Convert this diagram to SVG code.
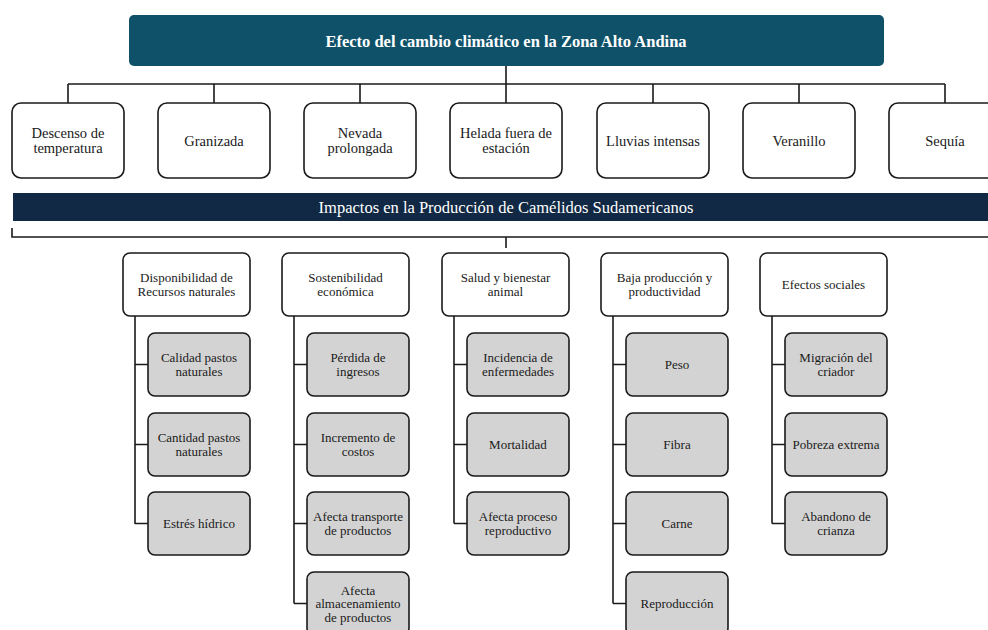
<svg xmlns="http://www.w3.org/2000/svg" width="988" height="630" viewBox="0 0 988 630">
<style>
text{font-family:"Liberation Serif","Times New Roman",serif;fill:#1a1a1a;text-anchor:middle;dominant-baseline:central}
.top rect{fill:#fff;stroke:#1a1a1a;stroke-width:1.6}
.top text{font-size:14.5px}
.par rect{fill:#fff;stroke:#1a1a1a;stroke-width:1.6}
.par text{font-size:13px}
.ch rect{fill:#d3d3d3;stroke:#1a1a1a;stroke-width:1.6}
.ch text{font-size:13px}
#connectors path{fill:none;stroke:#1a1a1a;stroke-width:1.6}
</style>
<rect width="988" height="630" fill="#fff"/>
<g id="connectors">
<path d="M506 66V84M68 84H945M68 84V103M214 84V103M360 84V103M506 84V103M653 84V103M799 84V103M945 84V103"/>
<path d="M12 228V237H988M506 237V248"/>
<path d="M135 316V524M135 364.5H148M135 444.5H148M135 523.5H148"/>
<path d="M294 316V603.5M294 364.5H307M294 444.5H307M294 523.5H307M294 603.5H307"/>
<path d="M454 316V523.5M454 364.5H467M454 444.5H467M454 523.5H467"/>
<path d="M613 316V603.5M613 364.5H626M613 444.5H626M613 523.5H626M613 603.5H626"/>
<path d="M772 316V523.5M772 364.5H785M772 444.5H785M772 523.5H785"/>
</g>
<g id="title"><rect x="129" y="15" width="755" height="51" rx="5" fill="#0f5169"/><text x="506" y="41" style="font-weight:bold;font-size:16.5px;fill:#fff">Efecto del cambio climático en la Zona Alto Andina</text></g>
<g id="t1" class="top"><rect x="12" y="103" width="112" height="75" rx="9"/><text x="68" y="132.5">Descenso de</text><text x="68" y="148">temperatura</text></g>
<g id="t2" class="top"><rect x="158" y="103" width="112" height="75" rx="9"/><text x="214" y="140.5">Granizada</text></g>
<g id="t3" class="top"><rect x="304" y="103" width="112" height="75" rx="9"/><text x="360" y="132.5">Nevada</text><text x="360" y="148">prolongada</text></g>
<g id="t4" class="top"><rect x="450" y="103" width="112" height="75" rx="9"/><text x="506" y="132.5">Helada fuera de</text><text x="506" y="148">estación</text></g>
<g id="t5" class="top"><rect x="597" y="103" width="112" height="75" rx="9"/><text x="653" y="140.5">Lluvias intensas</text></g>
<g id="t6" class="top"><rect x="743" y="103" width="112" height="75" rx="9"/><text x="799" y="140.5">Veranillo</text></g>
<g id="t7" class="top"><rect x="889" y="103" width="112" height="75" rx="9"/><text x="945" y="140.5">Sequía</text></g>
<g id="banner"><rect x="13" y="193" width="980" height="28" fill="#112944"/><text x="506" y="207.5" style="font-size:16.5px;fill:#fff">Impactos en la Producción de Camélidos Sudamericanos</text></g>
<g id="p1" class="par"><rect x="123" y="253" width="127" height="63" rx="7"/><text x="186.5" y="277">Disponibilidad de</text><text x="186.5" y="291">Recursos naturales</text></g>
<g id="p2" class="par"><rect x="282" y="253" width="127" height="63" rx="7"/><text x="345.5" y="277">Sostenibilidad</text><text x="345.5" y="291">económica</text></g>
<g id="p3" class="par"><rect x="442" y="253" width="127" height="63" rx="7"/><text x="505.5" y="277">Salud y bienestar</text><text x="505.5" y="291">animal</text></g>
<g id="p4" class="par"><rect x="601" y="253" width="127" height="63" rx="7"/><text x="664.5" y="277">Baja producción y</text><text x="664.5" y="291">productividad</text></g>
<g id="p5" class="par"><rect x="760" y="253" width="127" height="63" rx="7"/><text x="823.5" y="284">Efectos sociales</text></g>
<g id="c11" class="ch"><rect x="148" y="333" width="102" height="63" rx="7"/><text x="199" y="357.5">Calidad pastos</text><text x="199" y="371">naturales</text></g>
<g id="c12" class="ch"><rect x="148" y="413" width="102" height="63" rx="7"/><text x="199" y="437.5">Cantidad pastos</text><text x="199" y="451">naturales</text></g>
<g id="c13" class="ch"><rect x="148" y="492" width="102" height="63" rx="7"/><text x="199" y="523.5">Estrés hídrico</text></g>
<g id="c21" class="ch"><rect x="307" y="333" width="102" height="63" rx="7"/><text x="358" y="357.5">Pérdida de</text><text x="358" y="371">ingresos</text></g>
<g id="c22" class="ch"><rect x="307" y="413" width="102" height="63" rx="7"/><text x="358" y="437.5">Incremento de</text><text x="358" y="451">costos</text></g>
<g id="c23" class="ch"><rect x="307" y="492" width="102" height="63" rx="7"/><text x="358" y="516.5">Afecta transporte</text><text x="358" y="530">de productos</text></g>
<g id="c24" class="ch"><rect x="307" y="572" width="102" height="63" rx="7"/><text x="358" y="590">Afecta</text><text x="358" y="603.5">almacenamiento</text><text x="358" y="617">de productos</text></g>
<g id="c31" class="ch"><rect x="467" y="333" width="102" height="63" rx="7"/><text x="518" y="357.5">Incidencia de</text><text x="518" y="371">enfermedades</text></g>
<g id="c32" class="ch"><rect x="467" y="413" width="102" height="63" rx="7"/><text x="518" y="444">Mortalidad</text></g>
<g id="c33" class="ch"><rect x="467" y="492" width="102" height="63" rx="7"/><text x="518" y="516.5">Afecta proceso</text><text x="518" y="530">reproductivo</text></g>
<g id="c41" class="ch"><rect x="626" y="333" width="102" height="63" rx="7"/><text x="677" y="364">Peso</text></g>
<g id="c42" class="ch"><rect x="626" y="413" width="102" height="63" rx="7"/><text x="677" y="444">Fibra</text></g>
<g id="c43" class="ch"><rect x="626" y="492" width="102" height="63" rx="7"/><text x="677" y="523.5">Carne</text></g>
<g id="c44" class="ch"><rect x="626" y="572" width="102" height="63" rx="7"/><text x="677" y="603.5">Reproducción</text></g>
<g id="c51" class="ch"><rect x="785" y="333" width="102" height="63" rx="7"/><text x="836" y="357.5">Migración del</text><text x="836" y="371">criador</text></g>
<g id="c52" class="ch"><rect x="785" y="413" width="102" height="63" rx="7"/><text x="836" y="444">Pobreza extrema</text></g>
<g id="c53" class="ch"><rect x="785" y="492" width="102" height="63" rx="7"/><text x="836" y="516.5">Abandono de</text><text x="836" y="530">crianza</text></g>
</svg>
